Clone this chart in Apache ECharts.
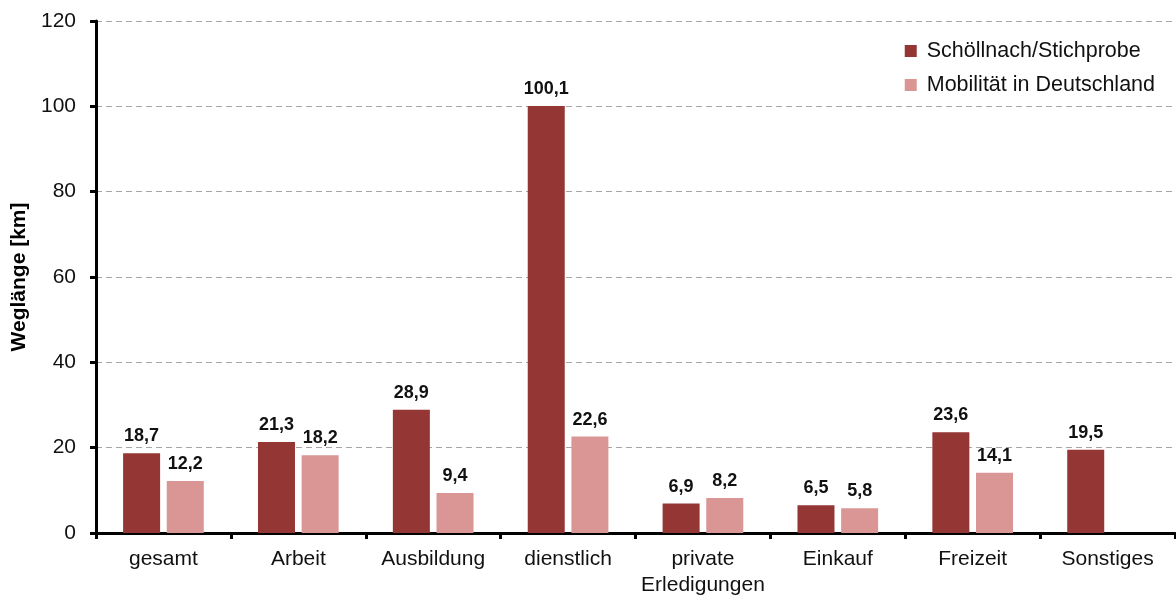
<!DOCTYPE html>
<html><head><meta charset="utf-8">
<script src="https://cdn.jsdelivr.net/npm/echarts@6/dist/echarts.min.js"></script>
<style>html,body{margin:0;padding:0;background:#fff}#c{width:1176px;height:596px}</style>
</head><body><div id="c"></div>
<script>
const categories = ['gesamt','Arbeit','Ausbildung','dienstlich','private\nErledigungen','Einkauf','Freizeit','Sonstiges'];
const schoellnach = [18.7, 21.3, 28.9, 100.1, 6.9, 6.5, 23.6, 19.5];
const mid = [12.2, 18.2, 9.4, 22.6, 8.2, 5.8, 14.1, null];
const seriesNames = ['Schöllnach/Stichprobe','Mobilität in Deutschland'];
const yTicks = {min:0, max:120, interval:20};

const font = 'Liberation Sans, Helvetica, Arial, sans-serif';
const chart = echarts.init(document.getElementById('c'));
const lbl = {show:true, position:'top', distance:8, color:'#111', fontWeight:'bold', fontSize:18, fontFamily:font,
  formatter: p => String(p.value).replace('.', ',')};
chart.setOption({
  animation:false,
  textStyle:{fontFamily:font},
  grid:{left:96, right:1, top:21, bottom:63, containLabel:false, outerBoundsMode:'none'},
  legend:{
    orient:'vertical', right:16, top:35, itemWidth:12, itemHeight:12, itemGap:12,
    icon:'rect',
    textStyle:{fontSize:21.5, color:'#111', fontFamily:font, padding:[0,0,0,5]},
    data:seriesNames
  },
  xAxis:{
    type:'category', data:categories,
    axisLine:{lineStyle:{color:'#000', width:3}},
    axisTick:{show:true, length:6, lineStyle:{color:'#000', width:3}},
    axisLabel:{fontSize:21, color:'#111', margin:13, lineHeight:26, interval:0, fontFamily:font}
  },
  yAxis:{
    type:'value', min:yTicks.min, max:yTicks.max, interval:yTicks.interval,
    name:'Weglänge [km]', nameLocation:'middle', nameGap:56, nameRotate:90,
    nameTextStyle:{fontSize:21, fontWeight:'bold', color:'#000', fontFamily:font},
    axisLine:{show:true, lineStyle:{color:'#000', width:3}},
    axisTick:{show:true, length:6, lineStyle:{color:'#000', width:3}},
    axisLabel:{fontSize:21, color:'#111', margin:20, fontFamily:font},
    splitLine:{show:true, lineStyle:{color:'#a6a6a6', type:[6,4], width:1}}
  },
  series:[
    {name:seriesNames[0], type:'bar', data:schoellnach, barWidth:37, barGap:'18%',
     itemStyle:{color:'#943634'}, label:lbl},
    {name:seriesNames[1], type:'bar', data:mid, barWidth:37,
     itemStyle:{color:'#d99694'}, label:lbl}
  ]
});
</script></body></html>
